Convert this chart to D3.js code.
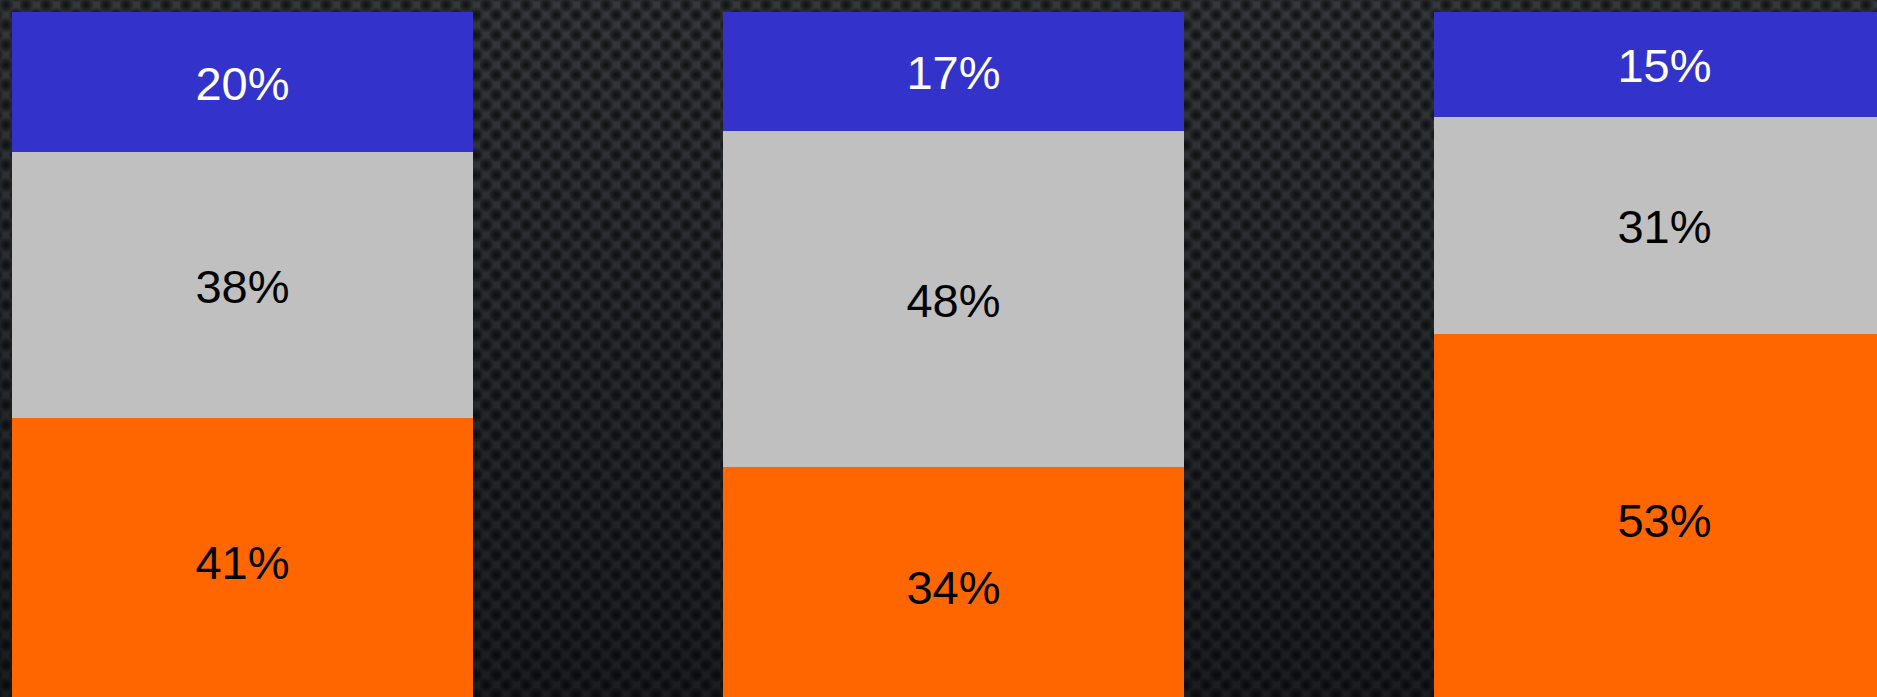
<!DOCTYPE html>
<html>
<head>
<meta charset="utf-8">
<script src="https://cdn.jsdelivr.net/npm/d3@7"></script>
<style>
  html, body { margin: 0; padding: 0; background: #1e2023; overflow: hidden; }
</style>
</head>
<body>
<div id="chart"></div>
<script>
// three stacked columns, values in percent (bottom to top)
var groups = ['A', 'B', 'C'];
var orangeVals = [41, 34, 53];
var grayVals = [38, 48, 31];
var blueVals = [20, 17, 15];
var seriesNames = ['orange', 'gray', 'blue'];
var seriesColors = ['#ff6600', '#c0c0c0', '#3333cc'];
var labelColors = ['#000000', '#000000', '#ffffff'];

var width = 1877, height = 697;

// build rows for d3.stack
var rows = groups.map(function(g, i){
  return { group: g, orange: orangeVals[i], gray: grayVals[i], blue: blueVals[i] };
});
var stacked = d3.stack().keys(seriesNames)(rows);

var svg = d3.select('#chart').append('svg')
  .attr('width', width)
  .attr('height', height);

var defs = svg.append('defs');

// background: dark gradient with a dotted carbon texture
var bg = defs.append('linearGradient').attr('id', 'bg')
  .attr('x1', 0).attr('y1', 0).attr('x2', 0).attr('y2', 1);
bg.append('stop').attr('offset', '0%').attr('stop-color', '#34373b');
bg.append('stop').attr('offset', '55%').attr('stop-color', '#26292c');
bg.append('stop').attr('offset', '100%').attr('stop-color', '#1b1d20');

var dot = defs.append('radialGradient').attr('id', 'dot');
dot.append('stop').attr('offset', '0%').attr('stop-color', '#000').attr('stop-opacity', 0.7);
dot.append('stop').attr('offset', '55%').attr('stop-color', '#000').attr('stop-opacity', 0.4);
dot.append('stop').attr('offset', '100%').attr('stop-color', '#000').attr('stop-opacity', 0);

var pat = defs.append('pattern').attr('id', 'dots')
  .attr('patternUnits', 'userSpaceOnUse')
  .attr('width', 20).attr('height', 20);
var dotCentres = [[6,5],[16,15],[-4,15],[16,-5],[6,25],[26,15],[-4,-5],[26,-5],[-4,25],[26,25]];
dotCentres.forEach(function(c){
  pat.append('circle').attr('cx', c[0]).attr('cy', c[1]).attr('r', 8).attr('fill', 'url(#dot)');
});

svg.append('rect').attr('width', width).attr('height', height).attr('fill', 'url(#bg)');
svg.append('rect').attr('width', width).attr('height', height).attr('fill', 'url(#dots)');

// scales: 100% spans 700px starting at the top, so the columns run past the bottom
var x = d3.scaleBand().domain(groups)
  .range([12, 1895])
  .paddingInner(250 / 711)
  .paddingOuter(0);
var y = d3.scaleLinear().domain([0, 100]).range([712, 12]);

// columns hang from the top: blue first, gray under it, orange under that
function segTop(s, i){
  var total = rows[i].orange + rows[i].gray + rows[i].blue;
  return total - s[i][1];
}

var layers = svg.selectAll('g.layer').data(stacked)
  .enter().append('g')
  .attr('class', 'layer');

layers.each(function(s, si){
  var g = d3.select(this);
  g.selectAll('rect').data(s)
    .enter().append('rect')
    .attr('x', function(d){ return x(d.data.group); })
    .attr('y', function(d, i){ return y(100 - segTop(s, i)); })
    .attr('width', x.bandwidth())
    .attr('height', function(d){ return y(0) - y(d[1] - d[0]); })
    .attr('fill', seriesColors[si]);

  g.selectAll('text').data(s)
    .enter().append('text')
    .attr('x', function(d){ return x(d.data.group) + x.bandwidth() / 2; })
    .attr('y', function(d, i){ return y(100 - segTop(s, i) - (d[1] - d[0]) / 2) + 1; })
    .attr('text-anchor', 'middle')
    .attr('dominant-baseline', 'central')
    .attr('font-family', 'Liberation Sans, Arial, sans-serif')
    .attr('font-size', 47)
    .attr('fill', labelColors[si])
    .text(function(d){ return (d[1] - d[0]) + '%'; });
});
</script>
</body>
</html>
